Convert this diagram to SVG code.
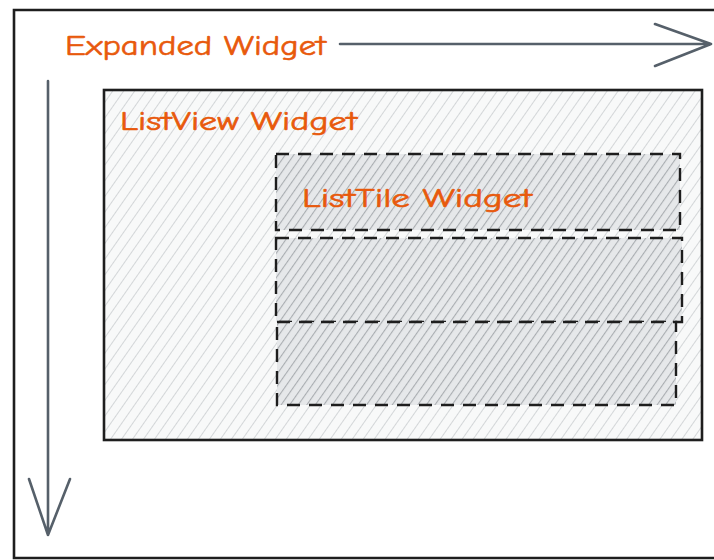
<svg xmlns="http://www.w3.org/2000/svg" width="714" height="560" viewBox="0 0 714 560">
<defs>
<pattern id="hatchLight" patternUnits="userSpaceOnUse" width="9" height="9" patternTransform="rotate(35)">
<rect width="9" height="9" fill="#f8f9f9"/>
<line x1="0" y1="0" x2="0" y2="9" stroke="#cfd2d5" stroke-width="1.8"/>
</pattern>
<pattern id="hatchDark" patternUnits="userSpaceOnUse" width="7" height="7" patternTransform="rotate(35)">
<rect width="7" height="7" fill="#e6e8ea"/>
<line x1="0" y1="0" x2="0" y2="7" stroke="#a9adb1" stroke-width="2.2"/>
</pattern>
<style>
.frame{fill:none;stroke:#1e1e1e;stroke-width:2.6}
.lvbox{fill:url(#hatchLight);stroke:#1e1e1e;stroke-width:2.6}
.arrow{fill:none;stroke:#56606a;stroke-width:2.6;stroke-linecap:round;stroke-linejoin:round}
.tile{fill:url(#hatchDark);stroke:#1e1e1e;stroke-width:2.4;stroke-dasharray:13 9}
.lbl{font-family:"Comic Neue","Liberation Sans",sans-serif;fill:#e8590c;stroke:#e8590c;stroke-width:0.6}
</style>
</defs>
<rect width="714" height="560" fill="#ffffff"/>
<g id="expanded">
<path class="frame" d="M716 10 L14 10 L14 558 L716 558"/>
<text class="lbl" x="65" y="55" font-size="29" textLength="261" lengthAdjust="spacingAndGlyphs">Expanded Widget</text>
</g>
<g id="listview">
<rect class="lvbox" x="104" y="90" width="598" height="350"/>
<text class="lbl" x="120" y="130" font-size="27" textLength="237" lengthAdjust="spacingAndGlyphs">ListView Widget</text>
</g>
<g id="tile1">
<rect class="tile" x="276" y="154" width="404" height="76"/>
<text class="lbl" x="302" y="207" font-size="26" textLength="230" lengthAdjust="spacingAndGlyphs">ListTile Widget</text>
</g>
<g id="tile2">
<rect class="tile" x="276" y="238" width="406" height="84"/>
</g>
<g id="tile3">
<rect class="tile" x="277" y="322" width="399" height="83"/>
</g>
<g id="connectors">
<path class="arrow" d="M340 44 L711 44 M655 24 L711 44 L655 66"/>
<path class="arrow" d="M48 81 L48 535 M29 479 L48 535 L70 479"/>
</g>
</svg>
